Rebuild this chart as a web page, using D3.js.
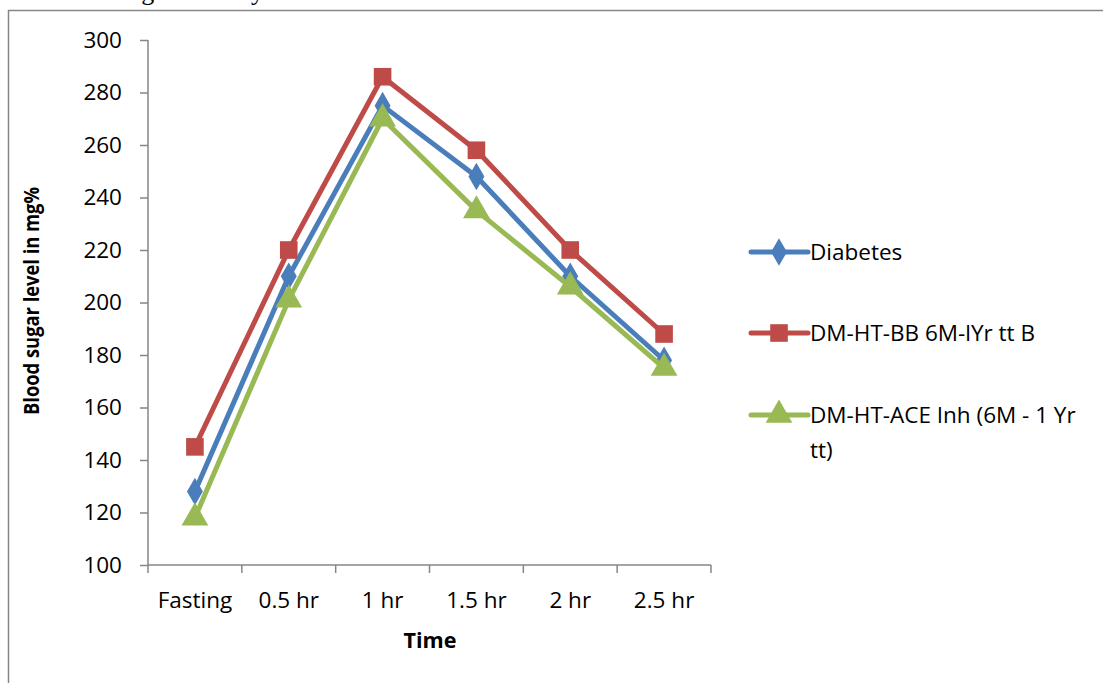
<!DOCTYPE html>
<html>
<head>
<script src="https://d3js.org/d3.v7.min.js"></script>
<style>
    body { margin: 0; background: #fff; }
    text { font-family: "Open Sans", Lato, sans-serif; fill: #000; }
</style>
</head>
<body>
<script>
    // data
    var categories = ['Fasting', '0.5 hr', '1 hr', '1.5 hr', '2 hr', '2.5 hr'];
    var yTicks = [100, 120, 140, 160, 180, 200, 220, 240, 260, 280, 300];
    var seriesNames = ['Diabetes', 'DM-HT-BB 6M-lYr tt B', 'DM-HT-ACE Inh (6M - 1 Yr tt)'];
    var diabetes = [128, 210, 275, 248, 210, 178];
    var bbGroup = [145, 220, 286, 258, 220, 188];
    var aceGroup = [118, 201, 270, 235, 206, 175];

    var colors = ['#4a7ebb', '#be4b48', '#98b954'];
    var symbols = [d3.symbolDiamond, d3.symbolSquare, d3.symbolTriangle];
    var series = [diabetes, bbGroup, aceGroup];
    var fontSize = '22.5px';

    var svg = d3.select('body')
        .append('svg')
        .attr('width', 1103)
        .attr('height', 683);

    // cut-off caption of the surrounding document
    svg.append('text')
        .attr('x', 48)
        .attr('y', 0)
        .style('font-family', '"Liberation Serif", serif')
        .style('font-size', '26px')
        .text('Blood sugar level by');

    // frame
    svg.append('rect')
        .attr('x', 8.5)
        .attr('y', 10.5)
        .attr('width', 1200)
        .attr('height', 800)
        .attr('fill', 'none')
        .attr('stroke', '#878787')
        .attr('stroke-width', 1.5);

    var xScale = d3.scaleBand()
        .domain(categories)
        .range([148, 711]);
    var yScale = d3.scaleLinear()
        .domain([100, 300])
        .range([565, 40]);

    // y axis
    var yAxis = svg.append('g')
        .attr('transform', 'translate(148,0)')
        .call(d3.axisLeft(yScale).tickValues(yTicks).tickSize(8).tickPadding(18));
    yAxis.selectAll('text').style('font-size', fontSize);

    // x axis with tick marks between categories
    var xAxis = svg.append('g')
        .attr('transform', 'translate(0,565)')
        .call(d3.axisBottom(xScale).tickSize(0).tickPadding(27));
    xAxis.selectAll('text').style('font-size', fontSize);
    var edges = categories.map(c => xScale(c)).concat([xScale.range()[1]]);
    xAxis.selectAll('.edge')
        .data(edges)
        .enter()
        .append('line')
        .attr('x1', d => d)
        .attr('x2', d => d)
        .attr('y1', 0)
        .attr('y2', 8)
        .attr('stroke', '#868686')
        .attr('stroke-width', 1.5);

    svg.selectAll('.domain, .tick line')
        .attr('stroke', '#868686')
        .attr('stroke-width', 1.5);
    yAxis.select('.domain').attr('d', 'M0,40V565');
    xAxis.select('.domain').attr('d', 'M148,0H711');

    // axis titles
    svg.append('text')
        .attr('x', 430)
        .attr('y', 648)
        .attr('text-anchor', 'middle')
        .style('font-size', '21px')
        .style('font-weight', 'bold')
        .attr('textLength', 53)
        .attr('lengthAdjust', 'spacingAndGlyphs')
        .text('Time');

    svg.append('text')
        .attr('transform', 'translate(39,301) rotate(-90)')
        .attr('text-anchor', 'middle')
        .style('font-size', '21px')
        .style('font-weight', 'bold')
        .attr('textLength', 228)
        .attr('lengthAdjust', 'spacingAndGlyphs')
        .text('Blood sugar level in mg%');

    var line = d3.line()
        .x((d, i) => xScale(categories[i]) + xScale.bandwidth() / 2)
        .y(d => yScale(d));

    var groups = svg.selectAll('.series')
        .data(series)
        .enter()
        .append('g')
        .attr('class', 'series');

    groups.append('path')
        .attr('d', d => line(d))
        .attr('fill', 'none')
        .attr('stroke', (d, i) => colors[i])
        .attr('stroke-width', 5)
        .attr('stroke-linejoin', 'round');

    groups.each(function (vals, si) {
        d3.select(this).selectAll('path.mark')
            .data(vals)
            .enter()
            .append('path')
            .attr('class', 'mark')
            .attr('d', d3.symbol().type(symbols[si]).size(si === 0 ? 220 : 310))
            .attr('transform', (d, i) => 'translate(' + (xScale(categories[i]) + xScale.bandwidth() / 2) + ',' + yScale(d) + ')')
            .attr('fill', colors[si]);
    });

    // legend
    var legendY = [252, 333, 415];
    var legend = svg.append('g');
    seriesNames.forEach(function (name, i) {
        legend.append('line')
            .attr('x1', 751).attr('x2', 808)
            .attr('y1', legendY[i]).attr('y2', legendY[i])
            .attr('stroke', colors[i])
            .attr('stroke-width', 5)
            .attr('stroke-linecap', 'round');
        legend.append('path')
            .attr('d', d3.symbol().type(symbols[i]).size(i === 0 ? 220 : 310))
            .attr('transform', 'translate(779,' + legendY[i] + ')')
            .attr('fill', colors[i]);
    });
    legend.append('text').attr('x', 810).attr('y', 260).style('font-size', fontSize).text(seriesNames[0]);
    legend.append('text').attr('x', 810).attr('y', 341).style('font-size', fontSize).text(seriesNames[1]);
    legend.append('text').attr('x', 810).attr('y', 423).style('font-size', fontSize).text('DM-HT-ACE Inh (6M - 1 Yr');
    legend.append('text').attr('x', 810).attr('y', 458).style('font-size', fontSize).text('tt)');
</script>
</body>
</html>
